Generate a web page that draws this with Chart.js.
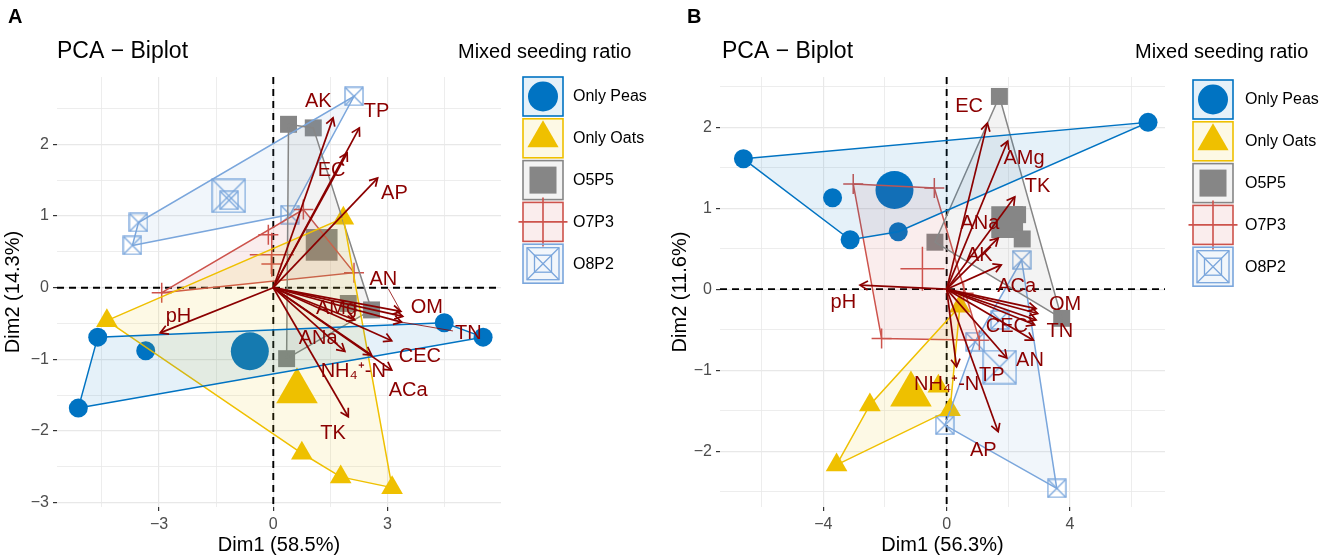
<!DOCTYPE html>
<html><head><meta charset="utf-8">
<script src="https://cdn.jsdelivr.net/npm/chart.js@4/dist/chart.umd.min.js"></script>
<style>
html,body{margin:0;padding:0;background:#fff;width:1325px;height:560px;overflow:hidden}
#ca{position:absolute;left:0;top:0}
#cb{position:absolute;left:660px;top:0}
</style></head><body>
<canvas id="ca" width="660" height="560"></canvas>
<canvas id="cb" width="665" height="560"></canvas>
<script>
// ---------- shared ----------
const GROUPS = ['Only Peas','Only Oats','O5P5','O7P3','O8P2'];
const COLORS = ['#0073C2','#EFC000','#868686','#CD534C','#7AA6DC'];
const VARCOL = '#8B0000';

// ---------- panel A data ----------
const A_peasX = [-4.61,-5.12,-3.35,4.49,5.51];
const A_peasY = [-0.69,-1.68,-0.88,-0.49,-0.69];
const A_oatsX = [-4.37,0.75,1.77,3.12,1.84];
const A_oatsY = [-0.46,-2.31,-2.64,-2.79,0.97];
const A_o5p5X = [0.40,1.05,1.97,2.58,0.35];
const A_o5p5Y = [2.28,2.23,-0.22,-0.31,-0.99];
const A_o7p3X = [-2.93,0.79,2.12,-0.13,-0.05];
const A_o7p3Y = [-0.07,1.09,0.21,0.74,0.33];
const A_o8p2X = [2.12,-3.54,-3.70,0.44,-1.16];
const A_o8p2Y = [2.67,0.91,0.59,1.02,1.22];
const A_vars  = ['AK','TP','EC','AP','AN','OM','TN','AMg','ANa','CEC','NH\u2084\u207A-N','ACa','TK','pH'];
const A_varX  = [1.57,2.26,1.94,2.74,3.35,3.40,3.37,2.14,1.88,3.11,2.58,3.11,1.97,-2.97];
const A_varY  = [2.37,2.23,1.88,1.53,-0.33,-0.40,-0.48,-0.45,-0.89,-0.74,-0.94,-1.15,-1.80,-0.63];
const A_labX  = [1.18,2.71,1.53,3.18,2.89,4.03,5.12,1.66,1.18,3.85,2.10,3.54,1.57,-2.49];
const A_labY  = [2.60,2.46,1.64,1.32,0.11,-0.27,-0.64,-0.29,-0.71,-0.96,-1.17,-1.43,-2.03,-0.40];
const A_leaders = ['AN','TN'];
const A_xGrid = [-4.5,-3,-1.5,0,1.5,3,4.5];
const A_xTicks = [-3,0,3];
const A_yGrid = [-3,-2.5,-2,-1.5,-1,-0.5,0,0.5,1,1.5,2,2.5];
const A_yTicks = [-3,-2,-1,0,1,2];

// ---------- panel B data ----------
const B_peasX = [-6.59,6.53,-3.70,-3.13,-1.57];
const B_peasY = [1.61,2.06,1.13,0.61,0.71];
const B_oatsX = [-3.57,-2.49,-0.27,0.11,0.43];
const B_oatsY = [-2.17,-1.43,-1.20,-1.49,-0.21];
const B_o5p5X = [1.71,-0.38,3.73,2.30,2.45];
const B_o5p5Y = [2.38,0.58,-0.36,0.92,0.62];
const B_o7p3X = [-3.03,-0.40,-2.11,1.06,0.55];
const B_o7p3Y = [1.30,1.25,-0.61,-0.63,-0.05];
const B_o8p2X = [2.43,1.73,0.92,-0.06,3.57];
const B_o8p2Y = [0.36,-0.38,-0.65,-1.68,-2.46];
const B_vars  = ['EC','AMg','TK','ANa','AK','ACa','OM','TN','CEC','AN','TP','NH\u2084\u207A-N','AP','pH'];
const B_varX  = [1.32,1.98,2.21,1.67,1.77,2.90,2.95,2.90,2.85,2.81,1.95,0.32,1.67,-2.81];
const B_varY  = [2.05,1.83,1.14,0.63,0.30,-0.24,-0.30,-0.38,-0.44,-0.63,-0.85,-0.96,-1.76,0.05];
const B_labX  = [0.73,2.51,2.95,1.08,1.06,2.27,3.84,3.67,1.95,2.70,1.46,0.00,1.19,-3.35];
const B_labY  = [2.25,1.61,1.27,0.81,0.42,0.03,-0.19,-0.52,-0.46,-0.88,-1.06,-1.18,-1.99,-0.17];
const B_leaders = [];
const B_xGrid = [-6,-4,-2,0,2,4,6];
const B_xTicks = [-4,0,4];
const B_yGrid = [-2.5,-2,-1.5,-1,-0.5,0,0.5,1,1.5,2,2.5];
const B_yTicks = [-2,-1,0,1,2];

Chart.defaults.font.family = '"Liberation Sans", Arial, sans-serif';
Chart.defaults.animation = false;

function rgba(hex,a){const n=parseInt(hex.slice(1),16);return `rgba(${n>>16},${(n>>8)&255},${n&255},${a})`;}
function fmt(v){return v<0?'\u2212'+(-v):String(v);}
function zip(xs,ys){return xs.map((x,i)=>({x,y:ys[i]}));}
function mean(a){return a.reduce((s,v)=>s+v,0)/a.length;}
function hull(pts){
  const p=pts.slice().sort((a,b)=>a.x-b.x||a.y-b.y);
  const cr=(o,a,b)=>(a.x-o.x)*(b.y-o.y)-(a.y-o.y)*(b.x-o.x);
  const lo=[],up=[];
  for(const q of p){while(lo.length>=2&&cr(lo[lo.length-2],lo[lo.length-1],q)<=0)lo.pop();lo.push(q);}
  for(let i=p.length-1;i>=0;i--){const q=p[i];while(up.length>=2&&cr(up[up.length-2],up[up.length-1],q)<=0)up.pop();up.push(q);}
  up.pop();lo.pop();const h=lo.concat(up);h.push(h[0]);return h;
}
function sqX(size,color,lw){
  const s=Math.ceil(size)+2;const c=document.createElement('canvas');c.width=s;c.height=s;
  const g=c.getContext('2d');g.strokeStyle=color;g.lineWidth=lw;const o=1,e=s-1;
  g.strokeRect(o,o,e-o,e-o);g.beginPath();g.moveTo(o,o);g.lineTo(e,e);g.moveTo(e,o);g.lineTo(o,e);g.stroke();return c;
}
const SQX_SMALL = sqX(18,COLORS[4],1.3);
const SQX_BIG = sqX(33,COLORS[4],1.3);

function pointStyle(gi,big){
  const c=COLORS[gi];
  switch(gi){
    case 0: return {pointStyle:'circle',pointRadius:big?19:9.5,backgroundColor:c,borderColor:c,borderWidth:0};
    case 1: return {pointStyle:'triangle',pointRadius:big?24:12.5,backgroundColor:c,borderColor:c,borderWidth:0};
    case 2: return {pointStyle:'rect',pointRadius:big?22.5:12,backgroundColor:c,borderColor:c,borderWidth:0};
    case 3: return {pointStyle:'cross',pointRadius:big?22:10,backgroundColor:c,borderColor:c,borderWidth:1.5};
    default: return {pointStyle:big?SQX_BIG:SQX_SMALL,pointRadius:big?17:9,backgroundColor:c,borderColor:c,borderWidth:1.3};
  }
}

function buildDatasets(groupsXY,vars,vx,vy){
  const ds=[];
  groupsXY.forEach(([xs,ys],gi)=>{
    const pts=zip(xs,ys);
    ds.push(Object.assign({data:pts,showLine:false,order:10},pointStyle(gi,false)));
    ds.push(Object.assign({data:[{x:mean(xs),y:mean(ys)}],showLine:false,order:10},pointStyle(gi,true)));
  });
  groupsXY.forEach(([xs,ys],gi)=>{
    ds.push({data:hull(zip(xs,ys)),showLine:true,fill:'shape',tension:0,
      backgroundColor:rgba(COLORS[gi],0.1),borderColor:COLORS[gi],borderWidth:1.5,pointRadius:0,order:5});
  });
  vars.forEach((n,i)=>{
    ds.push({data:[{x:0,y:0},{x:vx[i],y:vy[i]}],showLine:true,fill:false,borderColor:VARCOL,borderWidth:1.7,
      pointRadius:0,order:1,isArrow:true});
  });
  return ds;
}

function mkScale(axis,min,max,grid,labs,title,size,titlePad){
  return {type:'linear',min,max,
    afterBuildTicks:s=>{s.ticks=grid.map(v=>({value:v}));},
    afterFit:s=>{if(axis==='x')s.height=size;else s.width=size;},
    ticks:{autoSkip:false,maxRotation:0,minRotation:0,color:'#4D4D4D',font:{size:16},padding:4,
      callback:v=>labs.includes(v)?fmt(v):''},
    grid:{color:'#E8E8E8',lineWidth:c=>(c.tick&&labs.includes(c.tick.value))?1.2:0.8,drawTicks:true,tickLength:4,
      tickColor:c=>(c.tick&&labs.includes(c.tick.value))?'#333333':'rgba(0,0,0,0)',tickWidth:1.2},
    border:{display:false},
    title:{display:true,text:title,color:'#000',font:{size:20,lineHeight:1.2},padding:titlePad}
  };
}

const zeroPlugin={id:'zeroLines',beforeDatasetsDraw(chart){
  const {ctx,chartArea:a,scales:{x,y}}=chart;ctx.save();ctx.strokeStyle='#000';ctx.lineWidth=1.9;ctx.setLineDash([7,5]);
  const px=x.getPixelForValue(0),py=y.getPixelForValue(0);
  ctx.beginPath();ctx.moveTo(a.left,py);ctx.lineTo(a.right,py);ctx.moveTo(px,a.top);ctx.lineTo(px,a.bottom);ctx.stroke();ctx.restore();
}};

const arrowPlugin={id:'varArrows',afterDatasetsDraw(chart){
  const o=chart.options.plugins.varArrows;const {ctx,scales:{x,y}}=chart;
  ctx.save();ctx.strokeStyle=VARCOL;ctx.lineWidth=1.7;ctx.setLineDash([]);
  chart.data.datasets.forEach((d,i)=>{
    if(!d.isArrow)return;const m=chart.getDatasetMeta(i);const p0=m.data[0],p1=m.data[1];
    const ang=Math.atan2(p1.y-p0.y,p1.x-p0.x),L=9,h=Math.PI/6;
    ctx.beginPath();ctx.moveTo(p1.x-L*Math.cos(ang-h),p1.y-L*Math.sin(ang-h));ctx.lineTo(p1.x,p1.y);
    ctx.lineTo(p1.x-L*Math.cos(ang+h),p1.y-L*Math.sin(ang+h));ctx.stroke();
  });
  ctx.font='20px "Liberation Sans", Arial, sans-serif';ctx.fillStyle=VARCOL;ctx.textAlign='center';ctx.textBaseline='middle';
  o.names.forEach((n,i)=>{
    const lx=x.getPixelForValue(o.lx[i]),ly=y.getPixelForValue(o.ly[i]);
    if(o.leaders.includes(n)){
      const tx=x.getPixelForValue(o.vx[i]),ty=y.getPixelForValue(o.vy[i]);
      const hw=ctx.measureText(n).width/2+2,hh=9;const dx=tx-lx,dy=ty-ly;
      const t=Math.min(hw/Math.abs(dx||1e-9),hh/Math.abs(dy||1e-9));
      ctx.lineWidth=0.8;ctx.beginPath();ctx.moveTo(lx+dx*t,ly+dy*t);ctx.lineTo(tx,ty);ctx.stroke();
    }
    ctx.fillText(n,lx,ly);
  });
  ctx.restore();
}};

function drawKey(ctx,gi,x,y,w,h){
  const c=COLORS[gi],cx=x+w/2,cy=y+h/2;
  ctx.save();ctx.fillStyle=rgba(c,0.1);ctx.fillRect(x,y,w,h);ctx.strokeStyle=c;ctx.lineWidth=1.6;ctx.strokeRect(x,y,w,h);
  ctx.fillStyle=c;
  if(gi===0){ctx.beginPath();ctx.arc(cx,cy,15,0,Math.PI*2);ctx.fill();}
  else if(gi===1){ctx.beginPath();ctx.moveTo(cx,cy-18);ctx.lineTo(cx+15.6,cy+9);ctx.lineTo(cx-15.6,cy+9);ctx.closePath();ctx.fill();}
  else if(gi===2){ctx.fillRect(cx-13.5,cy-13.5,27,27);}
  else if(gi===3){ctx.lineWidth=1.6;ctx.beginPath();ctx.moveTo(cx-24.5,cy);ctx.lineTo(cx+24.5,cy);ctx.moveTo(cx,cy-24.5);ctx.lineTo(cx,cy+24.5);ctx.stroke();}
  else {ctx.lineWidth=1.3;ctx.strokeRect(cx-16,cy-16,32,32);ctx.strokeRect(cx-8.5,cy-8.5,17,17);
    ctx.beginPath();ctx.moveTo(cx-16,cy-16);ctx.lineTo(cx+16,cy+16);ctx.moveTo(cx+16,cy-16);ctx.lineTo(cx-16,cy+16);ctx.stroke();}
  ctx.restore();
}

const decoPlugin={id:'deco',afterDraw(chart){
  const o=chart.options.plugins.deco;const ctx=chart.ctx;ctx.save();
  ctx.fillStyle='#000';ctx.textBaseline='middle';ctx.textAlign='left';
  ctx.font='bold 20px "Liberation Sans", Arial, sans-serif';ctx.fillText(o.letter,o.letterX,17);
  ctx.font='23px "Liberation Sans", Arial, sans-serif';ctx.fillText('PCA \u2212 Biplot',o.titleX,52);
  ctx.font='20px "Liberation Sans", Arial, sans-serif';ctx.fillText('Mixed seeding ratio',o.legTitleX,52);
  ctx.font='16px "Liberation Sans", Arial, sans-serif';
  GROUPS.forEach((g,i)=>{const y=o.keyY+i*o.keyStep;drawKey(ctx,i,o.keyX,y,40,39);
    ctx.fillStyle='#000';ctx.fillText(g,o.labelX,y+20);});
  ctx.restore();
}};

function makeChart(id,groupsXY,vars,vx,vy,lx,ly,leaders,xr,yr,xg,xt,yg,yt,xTitle,yTitle,yWidth,yTitlePad,padRight,deco){
  return new Chart(document.getElementById(id),{
    type:'scatter',
    data:{datasets:buildDatasets(groupsXY,vars,vx,vy)},
    options:{responsive:false,events:[],animation:false,
      layout:{padding:{top:77,right:padRight,left:0,bottom:0}},
      scales:{
        x:mkScale('x',xr[0],xr[1],xg,xt,xTitle,53,{top:2,bottom:3}),
        y:mkScale('y',yr[0],yr[1],yg,yt,yTitle,yWidth,{top:yTitlePad,bottom:0})
      },
      plugins:{legend:{display:false},tooltip:{enabled:false},
        varArrows:{names:vars,vx,vy,lx,ly,leaders},deco}
    },
    plugins:[zeroPlugin,arrowPlugin,decoPlugin]
  });
}

makeChart('ca',
  [[A_peasX,A_peasY],[A_oatsX,A_oatsY],[A_o5p5X,A_o5p5Y],[A_o7p3X,A_o7p3Y],[A_o8p2X,A_o8p2Y]],
  A_vars,A_varX,A_varY,A_labX,A_labY,A_leaders,
  [-5.68,5.98],[-3.06,2.94],A_xGrid,A_xTicks,A_yGrid,A_yTicks,
  'Dim1 (58.5%)','Dim2 (14.3%)',57,1,159,
  {letter:'A',letterX:8,titleX:57,legTitleX:458,keyX:523,keyY:77,keyStep:41.8,labelX:573});

makeChart('cb',
  [[B_peasX,B_peasY],[B_oatsX,B_oatsY],[B_o5p5X,B_o5p5Y],[B_o7p3X,B_o7p3Y],[B_o8p2X,B_o8p2Y]],
  B_vars,B_varX,B_varY,B_labX,B_labY,B_leaders,
  [-7.35,7.08],[-2.69,2.62],B_xGrid,B_xTicks,B_yGrid,B_yTicks,
  'Dim1 (56.3%)','Dim2 (11.6%)',60,8,160,
  {letter:'B',letterX:27,titleX:62,legTitleX:475,keyX:533,keyY:80,keyStep:41.8,labelX:585});
</script>
</body></html>
